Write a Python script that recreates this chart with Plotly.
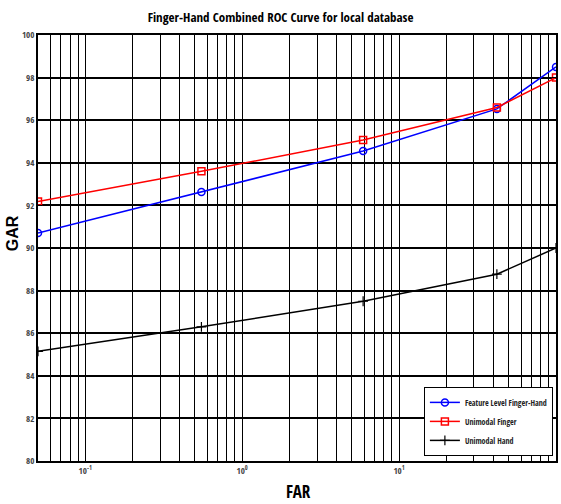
import plotly.graph_objects as go
import math

far = [0.05, 0.55, 5.9, 42, 100]
gar_fusion = [90.7, 92.63, 94.55, 96.53, 98.5]
gar_finger = [92.18, 93.6, 95.07, 96.6, 98.0]
gar_hand = [85.15, 86.3, 87.5, 88.77, 90.0]

series_names = ["Feature Level Finger-Hand", "Unimodal Finger", "Unimodal Hand"]
x_tickvals = [0.1, 1, 10, 100]
x_ticktext = ["10<sup>-1</sup>", "10<sup>0</sup>", "10<sup>1</sup>", "10<sup>2</sup>"]
y_tickvals = list(range(80, 101, 2))

FONT = "Open Sans Condensed, Liberation Sans Narrow, Arial Narrow, Liberation Sans, Arial"

fig = go.Figure()
fig.add_trace(go.Scatter(x=far, y=gar_fusion, mode="lines+markers", name=series_names[0],
                         line=dict(color="#0000ff", width=1.5),
                         marker=dict(symbol="circle-open", size=7, color="#0000ff", line=dict(width=1.5))))
fig.add_trace(go.Scatter(x=far, y=gar_finger, mode="lines+markers", name=series_names[1],
                         line=dict(color="#ff0000", width=1.5),
                         marker=dict(symbol="square-open", size=7, color="#ff0000", line=dict(width=1.5))))
fig.add_trace(go.Scatter(x=far, y=gar_hand, mode="lines+markers", name=series_names[2],
                         line=dict(color="#000000", width=1.5),
                         marker=dict(symbol="cross-thin-open", size=7, color="#000000", line=dict(width=1.2))))

minor_vals = [m * 10 ** e for e in range(-2, 2) for m in range(2, 10)]

fig.update_layout(
    width=561, height=504,
    margin=dict(l=38, r=3, t=35, b=43),
    paper_bgcolor="white", plot_bgcolor="white",
    title=dict(text="<b>Finger-Hand Combined ROC Curve for local database</b>",
               x=0.5, xanchor="center", y=0.965, yanchor="middle",
               font=dict(family=FONT, size=13, color="black")),
    font=dict(family=FONT, color="black"),
    showlegend=True,
    legend=dict(x=0.994, y=0.012, xanchor="right", yanchor="bottom",
                bgcolor="white", bordercolor="black", borderwidth=1,
                font=dict(family=FONT, size=8, color="#222"),
                itemwidth=30, tracegroupgap=0),
    xaxis=dict(type="log", range=[math.log10(0.05), 2],
               tickmode="array", tickvals=x_tickvals, ticktext=x_ticktext,
               ticks="inside", ticklen=4, tickcolor="black",
               showgrid=True, gridcolor="black", gridwidth=1,
               minor=dict(tickmode="array", tickvals=minor_vals, showgrid=True,
                          gridcolor="black", gridwidth=1, ticks="inside", ticklen=2),
               showline=True, linecolor="black", linewidth=1.5, mirror="ticks",
               tickfont=dict(family=FONT, size=9, color="#444"),
               zeroline=False),
    yaxis=dict(range=[80, 100], tickmode="array", tickvals=y_tickvals,
               ticks="inside", ticklen=4, tickcolor="black",
               showgrid=True, gridcolor="black", gridwidth=1.5,
               showline=True, linecolor="black", linewidth=1.5, mirror="ticks",
               tickfont=dict(family=FONT, size=9, color="#444"),
               zeroline=False),
    annotations=[
        dict(text="<b>GAR</b>", xref="paper", yref="paper", x=-0.05, y=0.535,
             xanchor="center", yanchor="middle", textangle=-90, showarrow=False,
             font=dict(family="Liberation Sans, Arial", size=16, color="black")),
        dict(text="<b>FAR</b>", xref="paper", yref="paper", x=0.502, y=-0.072,
             xanchor="center", yanchor="middle", showarrow=False,
             font=dict(family=FONT, size=17, color="black")),
    ],
)

fig.write_html("out.html")
